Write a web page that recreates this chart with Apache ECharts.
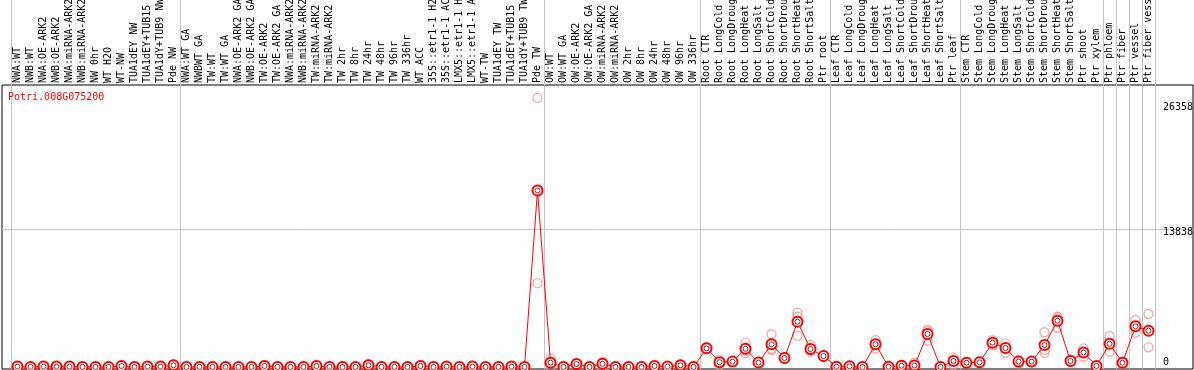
<!DOCTYPE html>
<html><head><meta charset="utf-8">
<script src="https://cdn.jsdelivr.net/npm/echarts@6/dist/echarts.min.js"></script>
<style>html,body{margin:0;padding:0;background:#fff}#c{width:1194px;height:370px}</style>
</head><body><div id="c"></div>
<script>
const geneId = 'Potri.008G075200';
const categories = [
 'NWA:WT','NWB:WT','NWA:OE-ARK2','NWB:OE-ARK2','NWA:miRNA-ARK2','NWB:miRNA-ARK2','NW 0hr','WT H2O','WT-NW','TUA1dEY NW','TUA1dEY+TUB15 NW','TUA1dY+TUB9 NW','Pde NW',
 'NWA:WT GA','NWBWT GA','TW:WT','TW:WT GA','NWA:OE-ARK2 GA','NWB:OE-ARK2 GA','TW:OE-ARK2','TW:OE-ARK2 GA','NWA:miRNA-ARK2 GA','NWB:miRNA-ARK2 GA','TW:miRNA-ARK2','TW:miRNA-ARK2 GA',
 'TW 2hr','TW 8hr','TW 24hr','TW 48hr','TW 96hr','TW 336hr','WT ACC','35S::etr1-1 H2O','35S::etr1-1 ACC','LMX5::etr1-1 H2O','LMX5::etr1-1 ACC','WT-TW','TUA1dEY TW','TUA1dEY+TUB15 TW','TUA1dY+TUB9 TW','Pde TW',
 'OW:WT','OW:WT GA','OW:OE-ARK2','OW:OE-ARK2 GA','OW:miRNA-ARK2','OW:miRNA-ARK2 GA','OW 2hr','OW 8hr','OW 24hr','OW 48hr','OW 96hr','OW 336hr',
 'Root CTR','Root LongCold','Root LongDrought','Root LongHeat','Root LongSalt','Root ShortCold','Root ShortDrought','Root ShortHeat','Root ShortSalt','Ptr root',
 'Leaf CTR','Leaf LongCold','Leaf LongDrought','Leaf LongHeat','Leaf LongSalt','Leaf ShortCold','Leaf ShortDrought','Leaf ShortHeat','Leaf ShortSalt','Ptr leaf',
 'Stem CTR','Stem LongCold','Stem LongDrought','Stem LongHeat','Stem LongSalt','Stem ShortCold','Stem ShortDrought','Stem ShortHeat','Stem ShortSalt','Ptr shoot','Ptr xylem',
 'Ptr phloem','Ptr fiber','Ptr vessel','Ptr fiber vessel'
];
const groupSizes = [13, 28, 12, 10, 10, 11, 1, 1, 1, 1];
const meanValues = [
 40,10,40,40,40,10,0,10,100,10,40,40,170,
 0,10,0,10,0,0,100,10,0,0,100,10,0,10,170,10,10,0,100,0,40,0,40,0,0,40,0,17700,
 430,0,300,0,320,0,0,0,100,40,170,0,
 1870,485,540,1820,440,2270,900,4540,1800,1100,
 30,70,0,2280,30,130,140,3310,0,600,
 430,470,2440,1900,540,540,2200,4640,600,1450,100,
 2325,430,4075,3640
];
const rep1 = [
 80,20,80,70,60,20,0,20,180,20,60,70,260,
 0,20,0,20,0,0,170,20,0,0,180,20,0,20,280,20,20,0,160,0,60,0,60,0,0,60,0,26990,
 870,0,340,0,540,0,0,0,140,60,230,0,
 1950,770,600,2440,500,3280,950,5440,2200,1150,
 50,110,0,2700,50,180,420,3710,0,970,
 480,520,2700,2370,700,590,3480,5040,700,1870,140,
 3110,540,4710,5310
];
const rep2 = [
 0,0,0,10,20,0,0,0,20,0,20,10,80,
 0,0,0,0,0,0,30,0,0,0,20,0,0,0,60,0,0,0,40,0,20,0,20,0,0,20,0,8410,
 370,0,260,0,100,0,0,0,60,20,110,0,
 1790,200,480,1370,380,1700,850,5060,1540,1050,
 10,30,0,1860,10,80,0,2640,0,230,
 380,420,2180,1430,380,490,1700,3940,500,1030,60,
 1540,320,3440,1970
];
const rep3 = [
 null,null,null,null,null,null,null,null,null,null,null,null,null,
 null,null,null,null,null,null,null,null,null,null,null,null,null,null,null,null,null,null,null,null,null,null,null,null,null,null,null,null,
 50,null,null,null,null,null,null,null,null,null,null,null,
 null,null,null,1650,null,1830,null,3120,1660,null,
 null,null,null,null,null,null,0,3580,null,null,
 null,null,null,null,null,null,1420,4940,null,null,null,
 null,null,null,null
];
const yLabelValues = [0, 13838, 26358];
const yGridValues = [13838];

const groupStarts = [];
let acc = 0;
groupSizes.forEach(s => { groupStarts.push(acc); acc += s; });

const FONT = 'DejaVu Sans Mono';
const Y_MIN = -200, Y_MAX = 28276;
const GRID_GRAY = '#c4c4c4';
const chart = echarts.init(document.getElementById('c'), null, {renderer: 'canvas'});
const groupLine = () => ({show: true, interval: (i) => groupStarts.indexOf(i) >= 0, lineStyle: {color: GRID_GRAY, width: 1}});
const repSeries = (d) => ({
  type: 'scatter', xAxisIndex: 0, yAxisIndex: 0, data: d, symbol: 'circle', symbolSize: 9, z: 2,
  itemStyle: {color: 'rgba(0,0,0,0)', borderColor: '#ee9898', borderWidth: 1.4}, silent: true
});
const option = {
  animation: false,
  backgroundColor: '#fff',
  title: {text: geneId, left: 8, top: 92, padding: 0,
    textStyle: {color: '#ff0000', fontFamily: FONT, fontSize: 10, fontWeight: 'normal'}},
  grid: [
    {left: 11, right: 39, top: 85, bottom: 1, outerBoundsMode: 'none', containLabel: false},
    {left: 11, right: 39, top: 0, height: 85, outerBoundsMode: 'none', containLabel: false},
    {left: 2, right: 1, top: 85, bottom: 1, outerBoundsMode: 'none', containLabel: false,
     show: true, borderColor: '#000', borderWidth: 1, backgroundColor: 'rgba(0,0,0,0)'}
  ],
  xAxis: [
    {gridIndex: 0, type: 'category', data: categories, position: 'top', boundaryGap: true,
     axisLine: {show: false}, axisTick: {show: false},
     axisLabel: {interval: 0, rotate: 90, margin: 2, fontFamily: FONT, fontSize: 10, color: '#000', hideOverlap: false},
     splitLine: groupLine()},
    {gridIndex: 1, type: 'category', data: categories, boundaryGap: true,
     axisLine: {show: false}, axisTick: {show: false}, axisLabel: {show: false},
     splitLine: groupLine()},
    {gridIndex: 2, type: 'value', show: false}
  ],
  yAxis: [
    {gridIndex: 0, type: 'value', min: Y_MIN, max: Y_MAX, position: 'right',
     axisLine: {show: false}, axisTick: {show: false}, splitLine: {show: false},
     axisLabel: {customValues: yLabelValues, margin: 8, fontFamily: FONT, fontSize: 10, color: '#000',
       formatter: (v) => v === 0 ? '{z|0}' : '{n|' + v + '}',
       rich: {
         z: {padding: [0, 0, 10, 0], fontFamily: FONT, fontSize: 10, color: '#000'},
         n: {padding: [6, 0, 0, 0], fontFamily: FONT, fontSize: 10, color: '#000'}
       }}},
    {gridIndex: 1, type: 'value', show: false},
    {gridIndex: 2, type: 'value', min: Y_MIN, max: Y_MAX,
     axisLine: {show: false}, axisTick: {show: false, customValues: yGridValues}, axisLabel: {show: false},
     splitLine: {show: true, lineStyle: {color: GRID_GRAY, width: 1}}}
  ],
  series: [
    repSeries(rep1), repSeries(rep2), repSeries(rep3),
    {type: 'line', xAxisIndex: 0, yAxisIndex: 0, data: meanValues, z: 3,
     lineStyle: {color: '#ff0000', width: 1}, symbol: 'circle', symbolSize: 10, showAllSymbol: true,
     itemStyle: {color: '#ffffff', borderColor: '#ff0000', borderWidth: 2}},
    {type: 'scatter', xAxisIndex: 0, yAxisIndex: 0, data: meanValues, z: 4, symbol: 'circle', symbolSize: 5, silent: true,
     itemStyle: {color: 'rgba(0,0,0,0)', borderColor: '#600000', borderWidth: 1}}
  ]
};
chart.setOption(option);
</script></body></html>
